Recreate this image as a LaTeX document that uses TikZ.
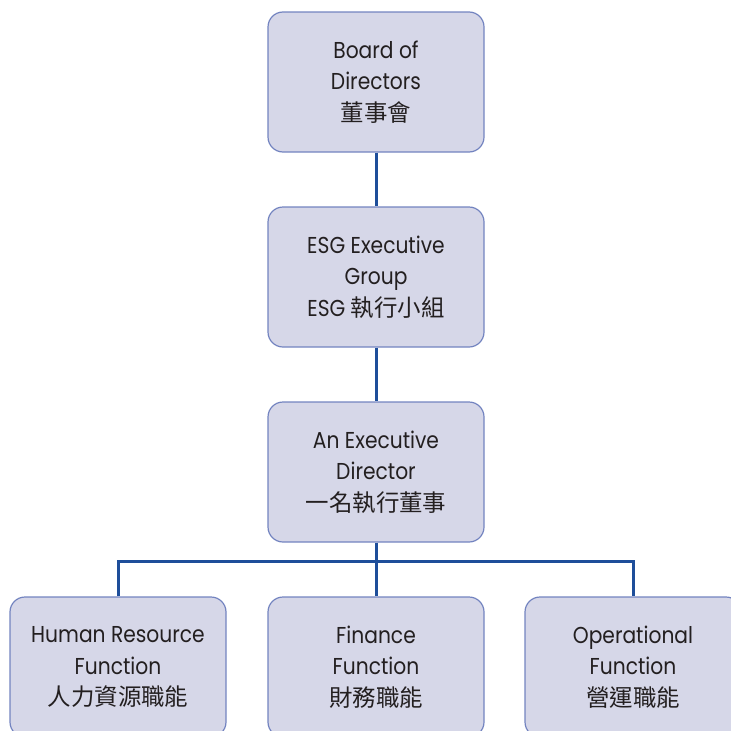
\documentclass[tikz,border=0pt]{standalone}
\usepackage{fontspec}
\setmainfont{Poppins}[FakeStretch=0.88]
\newfontfamily\cjk{Noto Sans CJK TC}[Scale=1.02]
\definecolor{boxfill}{HTML}{D6D7E8}
\definecolor{boxline}{HTML}{7384C0}
\definecolor{conn}{HTML}{1E4E9A}
\definecolor{txt}{HTML}{231F20}
\begin{document}
\begin{tikzpicture}[x=1pt,y=-1pt,
  orgbox/.style={draw=boxline, line width=1.2pt, fill=boxfill, rounded corners=15pt,
    minimum width=216pt, minimum height=140pt, inner sep=0pt, align=center,
    text=txt, font=\fontsize{23}{31.5}\selectfont},
  link/.style={draw=conn, line width=3pt}]
\clip (0,0) rectangle (731,731);
\useasboundingbox (0,0) rectangle (731,731);
\node[orgbox] (board) at (376,82) {Board of\\Directors\\{\cjk 董事會}};
\node[orgbox] (esg) at (376,277) {ESG Executive\\Group\\ESG {\cjk 執行小組}};
\node[orgbox] (ed) at (376,472) {An Executive\\Director\\{\cjk 一名執行董事}};
\node[orgbox] (hr) at (118,667) {Human Resource\\Function\\{\cjk 人力資源職能}};
\node[orgbox] (fin) at (376,667) {Finance\\Function\\{\cjk 財務職能}};
\node[orgbox] (op) at (633,667) {Operational\\Function\\{\cjk 營運職能}};
\coordinate (j) at (376,561);
\draw[link] (board.south) -- (esg.north);
\draw[link] (esg.south) -- (ed.north);
\draw[link] (ed.south) -- (fin.north);
\draw[link] (hr.north) |- (j) -| (op.north);
\end{tikzpicture}
\end{document}
